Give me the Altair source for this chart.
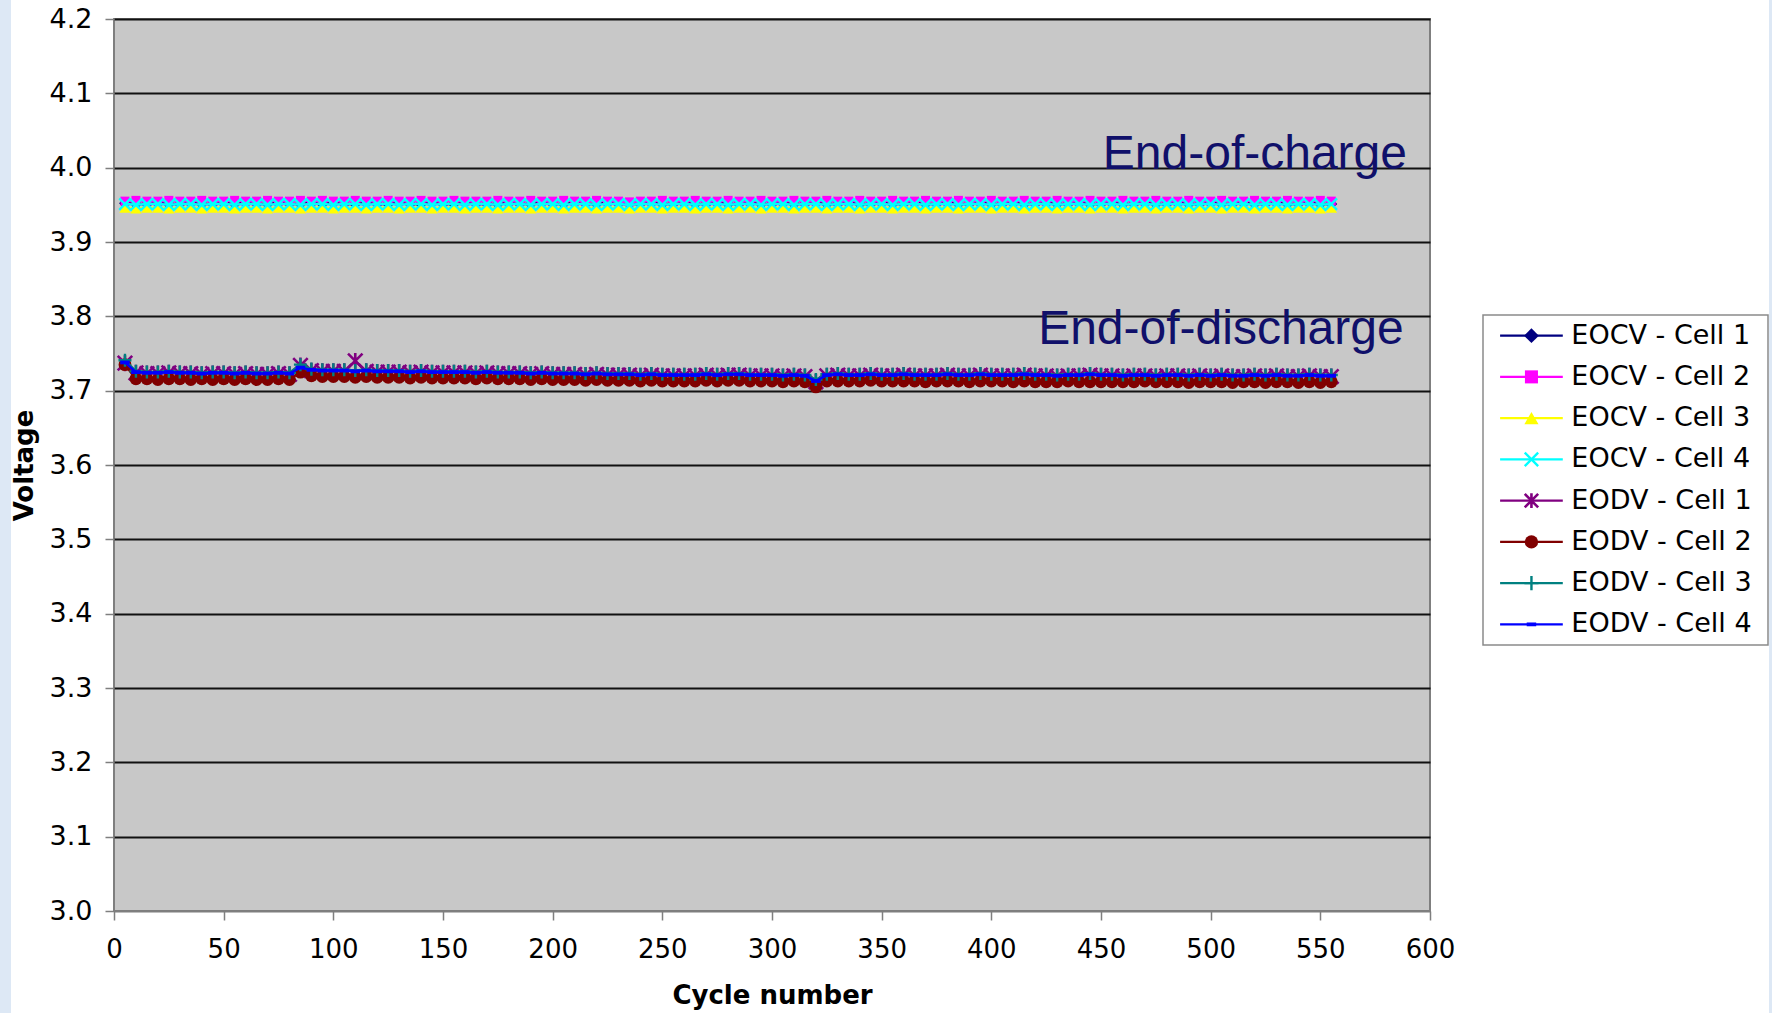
import altair as alt
import pandas as pd

cycles = [5, 10, 15, 20, 25, 30, 35, 40, 45, 50,
          55, 60, 65, 70, 75, 80, 85, 90, 95, 100,
          105, 110, 115, 120, 125, 130, 135, 140, 145, 150,
          155, 160, 165, 170, 175, 180, 185, 190, 195, 200,
          205, 210, 215, 220, 225, 230, 235, 240, 245, 250,
          255, 260, 265, 270, 275, 280, 285, 290, 295, 300,
          305, 310, 315, 320, 325, 330, 335, 340, 345, 350,
          355, 360, 365, 370, 375, 380, 385, 390, 395, 400,
          405, 410, 415, 420, 425, 430, 435, 440, 445, 450,
          455, 460, 465, 470, 475, 480, 485, 490, 495, 500,
          505, 510, 515, 520, 525, 530, 535, 540, 545, 550,
          555]

eocv_cell1 = [3.952, 3.951, 3.951, 3.952, 3.951, 3.951, 3.952, 3.951, 3.951, 3.952,
              3.951, 3.952, 3.951, 3.951, 3.952, 3.951, 3.951, 3.952, 3.951, 3.952,
              3.951, 3.951, 3.952, 3.951, 3.951, 3.952, 3.951, 3.951, 3.952, 3.951,
              3.951, 3.952, 3.951, 3.951, 3.951, 3.952, 3.951, 3.951, 3.952, 3.951,
              3.951, 3.952, 3.951, 3.951, 3.952, 3.951, 3.951, 3.951, 3.952, 3.951,
              3.951, 3.952, 3.951, 3.951, 3.952, 3.951, 3.951, 3.952, 3.951, 3.951,
              3.952, 3.951, 3.951, 3.952, 3.951, 3.951, 3.952, 3.951, 3.951, 3.952,
              3.951, 3.951, 3.952, 3.951, 3.951, 3.952, 3.951, 3.951, 3.952, 3.951,
              3.951, 3.952, 3.951, 3.951, 3.952, 3.951, 3.951, 3.952, 3.951, 3.951,
              3.952, 3.951, 3.951, 3.952, 3.951, 3.951, 3.952, 3.951, 3.951, 3.952,
              3.951, 3.951, 3.952, 3.951, 3.951, 3.952, 3.951, 3.951, 3.952, 3.951,
              3.951]
eocv_cell2 = [3.955, 3.956, 3.955, 3.955, 3.956, 3.955, 3.955, 3.956, 3.955, 3.955,
              3.956, 3.955, 3.955, 3.956, 3.955, 3.955, 3.956, 3.955, 3.956, 3.955,
              3.955, 3.956, 3.955, 3.955, 3.956, 3.955, 3.955, 3.956, 3.955, 3.955,
              3.956, 3.955, 3.955, 3.955, 3.956, 3.955, 3.955, 3.956, 3.955, 3.955,
              3.956, 3.955, 3.955, 3.956, 3.955, 3.955, 3.954, 3.955, 3.955, 3.956,
              3.955, 3.955, 3.956, 3.955, 3.955, 3.956, 3.955, 3.955, 3.956, 3.955,
              3.955, 3.956, 3.955, 3.955, 3.956, 3.955, 3.955, 3.956, 3.955, 3.955,
              3.956, 3.955, 3.955, 3.956, 3.955, 3.955, 3.956, 3.955, 3.955, 3.956,
              3.955, 3.955, 3.956, 3.955, 3.955, 3.956, 3.955, 3.955, 3.956, 3.955,
              3.955, 3.956, 3.955, 3.955, 3.956, 3.955, 3.955, 3.956, 3.955, 3.955,
              3.956, 3.955, 3.955, 3.956, 3.955, 3.955, 3.956, 3.955, 3.955, 3.956,
              3.955]
eocv_cell3 = [3.946, 3.945, 3.946, 3.946, 3.945, 3.946, 3.946, 3.945, 3.946, 3.946,
              3.945, 3.946, 3.946, 3.945, 3.946, 3.946, 3.945, 3.946, 3.946, 3.945,
              3.946, 3.946, 3.945, 3.946, 3.946, 3.945, 3.946, 3.946, 3.945, 3.946,
              3.946, 3.945, 3.946, 3.946, 3.945, 3.946, 3.946, 3.945, 3.946, 3.946,
              3.945, 3.946, 3.946, 3.945, 3.946, 3.946, 3.945, 3.946, 3.946, 3.945,
              3.946, 3.946, 3.945, 3.946, 3.946, 3.945, 3.946, 3.946, 3.945, 3.946,
              3.946, 3.945, 3.946, 3.946, 3.945, 3.946, 3.946, 3.945, 3.946, 3.946,
              3.945, 3.946, 3.946, 3.945, 3.946, 3.946, 3.945, 3.946, 3.946, 3.945,
              3.946, 3.946, 3.945, 3.946, 3.946, 3.945, 3.946, 3.946, 3.945, 3.946,
              3.946, 3.945, 3.946, 3.946, 3.945, 3.946, 3.946, 3.945, 3.946, 3.946,
              3.945, 3.946, 3.946, 3.945, 3.946, 3.946, 3.945, 3.946, 3.946, 3.945,
              3.946]
eocv_cell4 = [3.951, 3.950, 3.951, 3.951, 3.950, 3.951, 3.951, 3.950, 3.951, 3.951,
              3.950, 3.951, 3.951, 3.950, 3.951, 3.951, 3.950, 3.951, 3.951, 3.950,
              3.951, 3.951, 3.950, 3.951, 3.951, 3.950, 3.951, 3.951, 3.950, 3.951,
              3.951, 3.950, 3.951, 3.951, 3.950, 3.951, 3.951, 3.950, 3.951, 3.951,
              3.950, 3.951, 3.951, 3.950, 3.951, 3.951, 3.950, 3.951, 3.951, 3.950,
              3.951, 3.951, 3.950, 3.951, 3.951, 3.950, 3.951, 3.951, 3.950, 3.951,
              3.951, 3.950, 3.951, 3.951, 3.950, 3.951, 3.951, 3.950, 3.951, 3.951,
              3.950, 3.951, 3.951, 3.950, 3.951, 3.951, 3.950, 3.951, 3.951, 3.950,
              3.951, 3.951, 3.950, 3.951, 3.951, 3.950, 3.951, 3.951, 3.950, 3.951,
              3.951, 3.950, 3.951, 3.951, 3.950, 3.951, 3.951, 3.950, 3.951, 3.951,
              3.950, 3.951, 3.951, 3.950, 3.951, 3.951, 3.950, 3.951, 3.951, 3.950,
              3.951]

eodv_cell1 = [3.737, 3.724, 3.723, 3.723, 3.724, 3.723, 3.723, 3.722, 3.723, 3.723,
              3.722, 3.723, 3.722, 3.722, 3.723, 3.722, 3.734, 3.727, 3.726, 3.726,
              3.726, 3.740, 3.726, 3.725, 3.725, 3.725, 3.724, 3.725, 3.724, 3.724,
              3.724, 3.724, 3.723, 3.724, 3.723, 3.723, 3.723, 3.722, 3.723, 3.722,
              3.722, 3.722, 3.721, 3.722, 3.721, 3.721, 3.721, 3.720, 3.721, 3.720,
              3.720, 3.720, 3.720, 3.721, 3.720, 3.721, 3.721, 3.720, 3.720, 3.720,
              3.719, 3.720, 3.719, 3.712, 3.720, 3.721, 3.720, 3.720, 3.721, 3.720,
              3.720, 3.721, 3.720, 3.720, 3.720, 3.721, 3.720, 3.720, 3.721, 3.720,
              3.720, 3.720, 3.721, 3.720, 3.720, 3.719, 3.720, 3.720, 3.721, 3.720,
              3.720, 3.719, 3.720, 3.720, 3.719, 3.720, 3.720, 3.719, 3.720, 3.719,
              3.720, 3.719, 3.719, 3.720, 3.719, 3.720, 3.719, 3.719, 3.720, 3.719,
              3.719]
eodv_cell2 = [3.735, 3.716, 3.716, 3.715, 3.716, 3.716, 3.715, 3.716, 3.715, 3.716,
              3.715, 3.716, 3.715, 3.715, 3.716, 3.715, 3.725, 3.720, 3.719, 3.719,
              3.719, 3.718, 3.719, 3.718, 3.718, 3.718, 3.717, 3.718, 3.717, 3.717,
              3.717, 3.717, 3.716, 3.717, 3.716, 3.716, 3.716, 3.715, 3.716, 3.715,
              3.715, 3.715, 3.714, 3.715, 3.714, 3.714, 3.714, 3.713, 3.714, 3.713,
              3.713, 3.713, 3.713, 3.714, 3.713, 3.714, 3.714, 3.713, 3.713, 3.713,
              3.712, 3.713, 3.712, 3.705, 3.713, 3.713, 3.713, 3.713, 3.714, 3.713,
              3.713, 3.713, 3.713, 3.712, 3.713, 3.713, 3.713, 3.712, 3.713, 3.713,
              3.713, 3.712, 3.713, 3.712, 3.712, 3.712, 3.713, 3.712, 3.712, 3.712,
              3.712, 3.712, 3.712, 3.713, 3.712, 3.712, 3.712, 3.711, 3.712, 3.712,
              3.712, 3.711, 3.712, 3.712, 3.711, 3.712, 3.712, 3.711, 3.712, 3.711,
              3.712]
eodv_cell3 = [3.741, 3.726, 3.725, 3.725, 3.726, 3.725, 3.725, 3.724, 3.725, 3.725,
              3.724, 3.725, 3.724, 3.724, 3.725, 3.724, 3.735, 3.729, 3.728, 3.728,
              3.728, 3.727, 3.728, 3.727, 3.727, 3.727, 3.726, 3.727, 3.726, 3.726,
              3.726, 3.726, 3.725, 3.726, 3.725, 3.725, 3.725, 3.724, 3.725, 3.724,
              3.724, 3.724, 3.723, 3.724, 3.723, 3.723, 3.723, 3.722, 3.723, 3.722,
              3.722, 3.722, 3.722, 3.723, 3.722, 3.723, 3.723, 3.722, 3.722, 3.722,
              3.721, 3.722, 3.721, 3.715, 3.722, 3.723, 3.722, 3.722, 3.723, 3.722,
              3.722, 3.723, 3.722, 3.722, 3.722, 3.723, 3.722, 3.722, 3.723, 3.722,
              3.722, 3.722, 3.723, 3.722, 3.722, 3.721, 3.722, 3.722, 3.723, 3.722,
              3.722, 3.721, 3.722, 3.722, 3.721, 3.722, 3.722, 3.721, 3.722, 3.721,
              3.722, 3.721, 3.721, 3.722, 3.721, 3.722, 3.721, 3.721, 3.722, 3.721,
              3.721]
eodv_cell4 = [3.738, 3.725, 3.724, 3.724, 3.725, 3.724, 3.724, 3.723, 3.724, 3.724,
              3.723, 3.724, 3.723, 3.723, 3.724, 3.723, 3.731, 3.728, 3.727, 3.727,
              3.727, 3.726, 3.727, 3.726, 3.726, 3.726, 3.725, 3.726, 3.725, 3.725,
              3.725, 3.725, 3.724, 3.725, 3.724, 3.724, 3.724, 3.723, 3.724, 3.723,
              3.723, 3.723, 3.722, 3.723, 3.722, 3.722, 3.722, 3.721, 3.722, 3.721,
              3.721, 3.721, 3.721, 3.722, 3.721, 3.722, 3.722, 3.721, 3.721, 3.721,
              3.720, 3.721, 3.720, 3.713, 3.721, 3.722, 3.721, 3.721, 3.722, 3.721,
              3.721, 3.722, 3.721, 3.721, 3.721, 3.722, 3.721, 3.721, 3.722, 3.721,
              3.721, 3.721, 3.722, 3.721, 3.721, 3.720, 3.721, 3.721, 3.722, 3.721,
              3.721, 3.720, 3.721, 3.721, 3.720, 3.721, 3.721, 3.720, 3.721, 3.720,
              3.721, 3.720, 3.720, 3.721, 3.720, 3.721, 3.720, 3.720, 3.721, 3.720,
              3.720]

series_names = ["EOCV - Cell 1", "EOCV - Cell 2", "EOCV - Cell 3", "EOCV - Cell 4",
                "EODV - Cell 1", "EODV - Cell 2", "EODV - Cell 3", "EODV - Cell 4"]
series_values = [eocv_cell1, eocv_cell2, eocv_cell3, eocv_cell4,
                 eodv_cell1, eodv_cell2, eodv_cell3, eodv_cell4]

x_ticks = [0, 50, 100, 150, 200, 250, 300, 350, 400, 450, 500, 550, 600]
y_ticks = [3.0, 3.1, 3.2, 3.3, 3.4, 3.5, 3.6, 3.7, 3.8, 3.9, 4.0, 4.1, 4.2]

ann_text = ["End-of-charge", "End-of-discharge"]
ann_x = [589.5, 588.0]
ann_y = [3.998, 3.763]

# styles: colour, shape, plot size, legend size, filled, stroke width
X_PATH = "M-1,-1L1,1M-1,1L1,-1"
AST_PATH = "M-1,-1L1,1M-1,1L1,-1M0,-1.1L0,1.1"
PLUS_PATH = "M-1,0L1,0M0,-1L0,1"
DASH_PATH = "M-1,-0.4L1,-0.4L1,0.4L-1,0.4Z"
styles = [
    ("#000080", "diamond", 140, 220, True, 1),
    ("#ff00ff", "square", 81, 170, True, 1),
    ("#ffff00", "triangle-up", 130, 200, True, 1),
    ("#00ffff", X_PATH, 130, 180, False, 2.4),
    ("#800080", AST_PATH, 210, 180, False, 2.6),
    ("#800000", "circle", 165, 180, True, 1),
    ("#008080", PLUS_PATH, 170, 200, False, 2.4),
    ("#0000ff", DASH_PATH, 90, 90, True, 1),
]

FONT = "DejaVu Sans"
W, H = 1316, 892

X = alt.X("cycle:Q",
          scale=alt.Scale(domain=[0, 600], nice=False, zero=False),
          axis=alt.Axis(values=x_ticks, grid=False, domain=False, tickColor="#7f7f7f",
                        tickWidth=1.5, tickSize=9, labelFont=FONT, labelFontSize=26,
                        labelColor="black", labelPadding=16, labelFlush=False,
                        title="Cycle number", titleFont=FONT, titleFontSize=26,
                        titleFontWeight="bold", titleColor="black", titlePadding=20))
Y = alt.Y("v:Q",
          scale=alt.Scale(domain=[3.0, 4.2], nice=False, zero=False),
          axis=alt.Axis(values=y_ticks, format=".1f", grid=True,
                        gridColor=alt.condition("datum.value <= 3.0", alt.value("#7f7f7f"),
                                                alt.value("#111111")),
                        gridWidth=2, domain=False, tickColor="#7f7f7f", tickWidth=1.5,
                        tickSize=9, labelFont=FONT, labelFontSize=27, labelColor="black",
                        labelPadding=13, labelFlush=False, title="Voltage", titleFont=FONT,
                        titleFontSize=26, titleFontWeight="bold", titleColor="black",
                        titlePadding=12))

main_layers = []
for name, vals, st in zip(series_names, series_values, styles):
    color, shape, size, lsize, filled, sw = st
    df = pd.DataFrame({"cycle": cycles, "v": vals})
    main_layers.append(alt.Chart(df).mark_line(color=color, strokeWidth=2.5).encode(x=X, y=Y))
    main_layers.append(
        alt.Chart(df).mark_point(shape=shape, size=size, filled=filled, color=color,
                                 strokeWidth=sw, opacity=1).encode(x=X, y=Y))

ann_df = pd.DataFrame({"cycle": ann_x, "v": ann_y, "label": ann_text})
main_layers.append(
    alt.Chart(ann_df).mark_text(align="right", baseline="alphabetic", font="Liberation Sans",
                                fontSize=48, color="#10106a").encode(x=X, y=Y, text="label:N"))
main = alt.layer(*main_layers)

# legend (own scales)
LX = alt.Scale(domain=[0, 1], range=[1369, 1654])
LY = alt.Scale(domain=[-0.5, 7.5], range=[296, 626])
rows = list(range(len(series_names)))
leg_layers = []
strip_df = pd.DataFrame({"k": [0]})
leg_layers.append(alt.Chart(strip_df).mark_rect(color="#dde8f5").encode(
    x=alt.value(-114), x2=alt.value(-103), y=alt.value(-19), y2=alt.value(994)))
leg_layers.append(alt.Chart(strip_df).mark_rect(color="#dde8f5").encode(
    x=alt.value(1655), x2=alt.value(1658), y=alt.value(-19), y2=alt.value(994)))
box_df = pd.DataFrame({"lx": [0.0], "lx2": [1.0], "ly": [-0.5], "ly2": [7.5]})
leg_layers.append(alt.Chart(box_df).mark_rect(fill="white", stroke="#8a8a8a", strokeWidth=1.5).encode(
    x=alt.X("lx:Q", scale=LX, axis=None), x2="lx2:Q",
    y=alt.Y("ly:Q", scale=LY, axis=None), y2="ly2:Q"))
for r, st in zip(rows, styles):
    color, shape, size, lsize, filled, sw = st
    rdf = pd.DataFrame({"lx": [0.06], "lx2": [0.28], "lm": [0.17], "ly": [r]})
    leg_layers.append(alt.Chart(rdf).mark_rule(color=color, strokeWidth=2.4).encode(
        x=alt.X("lx:Q", scale=LX, axis=None), x2="lx2:Q",
        y=alt.Y("ly:Q", scale=LY, axis=None)))
    leg_layers.append(alt.Chart(rdf).mark_point(shape=shape, size=lsize, filled=filled, color=color,
                                                strokeWidth=sw, opacity=1).encode(
        x=alt.X("lm:Q", scale=LX, axis=None),
        y=alt.Y("ly:Q", scale=LY, axis=None)))
txt_df = pd.DataFrame({"lt": [0.31] * len(rows), "ly": rows, "name": series_names})
leg_layers.append(alt.Chart(txt_df).mark_text(align="left", baseline="middle", font=FONT,
                                              fontSize=27, color="black").encode(
    x=alt.X("lt:Q", scale=LX, axis=None),
    y=alt.Y("ly:Q", scale=LY, axis=None), text="name:N"))
legend = alt.layer(*leg_layers)

chart = alt.layer(main, legend).resolve_scale(x="independent", y="independent").properties(
    width=W, height=H,
    autosize=alt.AutoSizeParams(type="none"),
    padding={"left": 114, "top": 19, "right": 1772 - 114 - W, "bottom": 1013 - 19 - H},
).configure(background="white").configure_view(stroke="#7f7f7f", strokeWidth=2, fill="#c8c8c8")

chart.save("out.html", embed_options={"renderer": "svg", "actions": False})
